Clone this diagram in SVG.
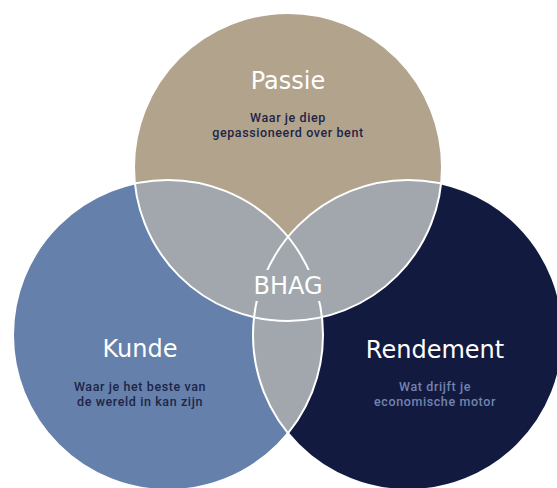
<svg xmlns="http://www.w3.org/2000/svg" width="557" height="488" viewBox="0 0 557 488">
<defs>
<clipPath id="cpP"><circle cx="288" cy="167" r="154"/></clipPath>
<clipPath id="cpK"><circle cx="168" cy="335" r="155"/></clipPath>
<style>
.title{font-family:"DejaVu Sans",sans-serif;font-size:24px;fill:#ffffff;text-anchor:middle}
.sub{font-family:Roboto,"Liberation Sans",sans-serif;font-size:12.5px;font-weight:500;letter-spacing:0.6px;text-anchor:middle}
.dark{fill:#1e2547}
.light{fill:#7184ae}
.edge{fill:none;stroke:#ffffff;stroke-width:2}
.lens{fill:#a1a7ad}
</style>
</defs>
<rect width="557" height="488" fill="#ffffff"/>
<g id="passie">
<circle cx="288" cy="167" r="154" fill="#b2a38c"/>
</g>
<g id="kunde">
<circle cx="168" cy="335" r="155" fill="#6480ab"/>
</g>
<g id="rendement">
<circle cx="408" cy="335" r="155" fill="#131a40"/>
</g>
<g id="overlaps">
<circle cx="168" cy="335" r="155" class="lens" clip-path="url(#cpP)"/>
<circle cx="408" cy="335" r="155" class="lens" clip-path="url(#cpP)"/>
<circle cx="408" cy="335" r="155" class="lens" clip-path="url(#cpK)"/>
</g>
<g id="edges">
<circle cx="288" cy="167" r="154" class="edge"/>
<circle cx="168" cy="335" r="155" class="edge"/>
<circle cx="408" cy="335" r="155" class="edge"/>
<rect x="252" y="270" width="72" height="31" class="lens"/>
</g>
<g id="labels">
<text class="title" x="288" y="89">Passie</text>
<text class="sub dark" x="288" y="122">Waar je diep</text>
<text class="sub dark" x="288" y="137">gepassioneerd over bent</text>
<text class="title" x="140" y="357">Kunde</text>
<text class="sub dark" x="140" y="391">Waar je het beste van</text>
<text class="sub dark" x="140" y="406">de wereld in kan zijn</text>
<text class="title" x="435" y="358">Rendement</text>
<text class="sub light" x="435" y="391">Wat drijft je</text>
<text class="sub light" x="435" y="406">economische motor</text>
<text class="title" x="288" y="294">BHAG</text>
</g>
</svg>
